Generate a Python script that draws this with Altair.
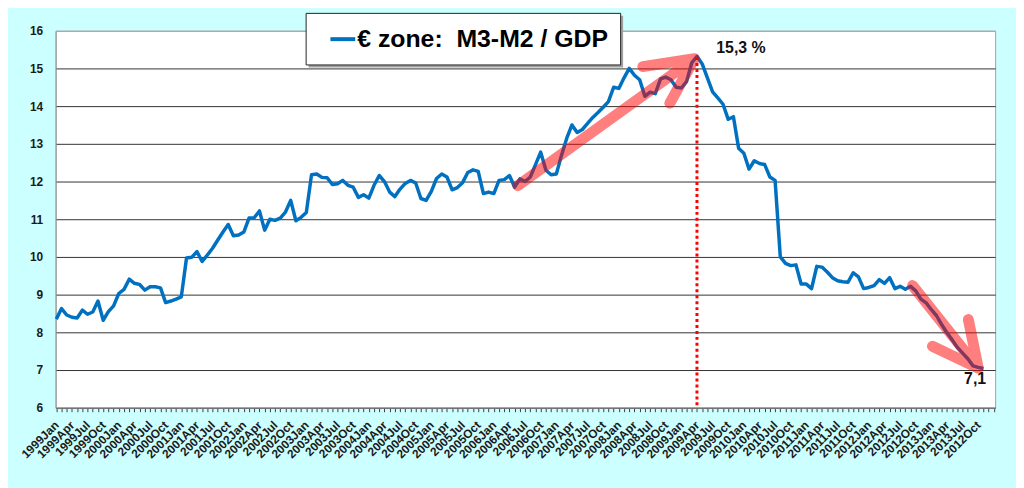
import altair as alt
import pandas as pd

FONT = "Liberation Sans"

# ---- tick labels (every 3rd month) ----
tick_labels = [
    "1999Jan", "1999Apr", "1999Jul", "1999Oct",
    "2000Jan", "2000Apr", "2000Jul", "2000Oct",
    "2001Jan", "2001Apr", "2001Jul", "2001Oct",
    "2002Jan", "2002Apr", "2002Jul", "2002Oct",
    "2003Jan", "2003Apr", "2003Jul", "2003Oct",
    "2004Jan", "2004Apr", "2004Jul", "2004Oct",
    "2005Jan", "2005Apr", "2005Jul", "2005Oct",
    "2006Jan", "2006Apr", "2006Jul", "2006Oct",
    "2007Jan", "2007Apr", "2007Jul", "2007Oct",
    "2008Jan", "2008Apr", "2008Jul", "2008Oct",
    "2009Jan", "2009Apr", "2009Jul", "2009Oct",
    "2010Jan", "2010Apr", "2010Jul", "2010Oct",
    "2011Jan", "2011Apr", "2011Jul", "2011Oct",
    "2012Jan", "2012Apr", "2012Jul", "2012Oct",
    "2013Jan", "2013Apr", "2013Jul", "2012Oct",
]

# ---- monthly values (M3-M2 / GDP, %) ----
values = [
    8.35, 8.63, 8.46, 8.40, 8.38, 8.59, 8.48, 8.54, 8.83, 8.32,
    8.55, 8.70, 9.03, 9.14, 9.41, 9.30, 9.27, 9.12, 9.21, 9.21,
    9.18, 8.79, 8.83, 8.88, 8.94, 9.97, 9.99, 10.14, 9.88, 10.05,
    10.23, 10.45, 10.66, 10.86, 10.56, 10.58, 10.66, 11.03, 11.04, 11.22,
    10.71, 11.00, 10.97, 11.03, 11.19, 11.50, 10.96, 11.05, 11.18, 12.18,
    12.20, 12.11, 12.10, 11.92, 11.94, 12.03, 11.90, 11.85, 11.58, 11.65,
    11.56, 11.90, 12.16, 12.00, 11.72, 11.60, 11.80, 11.95, 12.03, 11.96,
    11.55, 11.50, 11.74, 12.08, 12.20, 12.12, 11.78, 11.84, 11.97, 12.24,
    12.31, 12.27, 11.68, 11.72, 11.68, 12.03, 12.05, 12.16, 11.85, 12.07,
    12.00, 12.12, 12.45, 12.78, 12.30, 12.18, 12.20, 12.70, 13.15, 13.50,
    13.30, 13.38, 13.54, 13.70, 13.83, 13.97, 14.12, 14.50, 14.47, 14.75,
    15.00, 14.82, 14.70, 14.26, 14.37, 14.33, 14.72, 14.77, 14.70, 14.50,
    14.48, 14.65, 15.15, 15.32, 15.12, 14.75, 14.38, 14.22, 14.05, 13.65,
    13.72, 12.88, 12.75, 12.33, 12.55, 12.48, 12.45, 12.12, 12.03, 10.00,
    9.83, 9.77, 9.79, 9.28, 9.28, 9.16, 9.75, 9.73, 9.60, 9.45,
    9.37, 9.34, 9.33, 9.58, 9.47, 9.16, 9.19, 9.24, 9.40, 9.30,
    9.45, 9.16, 9.22, 9.14, 9.22, 9.10, 8.88, 8.78, 8.60, 8.44,
    8.20, 7.99, 7.80, 7.60, 7.45, 7.30, 7.11, 7.07, 7.04,
]

series_name = "€ zone:\u00a0 M3-M2 / GDP"
peak_index = 123
peak_value = 15.3

# annotation arrows, in data units (month index, value)
arrow_id = ["up"] * 5 + ["down"] * 5
arrow_seq = [0, 1, 2, 3, 4] * 2
arrow_i = [112.6, 122.5, 88.6, 122.5, 117.8, 168.2, 177.0, 164.4, 177.0, 175.1]
arrow_v = [15.05, 15.26, 11.89, 15.26, 14.08, 7.63, 7.05, 9.24, 7.05, 8.34]

note_text = ["15,3 %", "7,1"]
note_i = [126.7, 176.4]
note_v = [15.53, 6.76]
note_align = ["left", "center"]

df = pd.DataFrame({"i": list(range(len(values))), "v": values, "series": series_name})
arrows = pd.DataFrame({"arrow": arrow_id, "seq": arrow_seq, "i": arrow_i, "v": arrow_v})
notes = pd.DataFrame({"t": note_text, "i": note_i, "v": note_v, "al": note_align})
peak = pd.DataFrame({"i": [peak_index], "v": [peak_value], "v0": [6]})

xscale = alt.Scale(domain=[-0.13, 180.25], nice=False, zero=False)
yscale = alt.Scale(domain=[6, 16], nice=False, zero=False)

label_js = "[" + ",".join("'" + s + "'" for s in tick_labels) + "]"
label_expr = ("(datum.value % 3 == 0 && datum.value / 3 < " + str(len(tick_labels)) + ") ? "
              + label_js + "[datum.value / 3] : ''")

xaxis = alt.Axis(
    values=list(range(0, 181)), tickCount=400, labelExpr=label_expr, labelAngle=-45,
    labelAlign="right", labelBaseline="middle", labelOverlap=False,
    labelFlush=False, grid=False, tickSize=4, tickColor="#404040",
    domainColor="#808080", labelFont=FONT, labelFontWeight="bold",
    labelFontSize=12, labelColor="#1a1a1a", labelPadding=11, title=None,
)
yaxis = alt.Axis(
    values=list(range(6, 17)), tickCount=40, format="d", grid=True,
    gridColor={"condition": {"test": "datum.value >= 16", "value": "#a6a6a6"},
               "value": "#333333"},
    tickSize=0, domainColor="#999999", labelPadding=13, labelFont=FONT,
    labelOverlap=False, labelFlush=False,
    labelFontWeight="bold", labelFontSize=12, labelColor="#1a1a1a", title=None,
)

shadow = alt.Chart(pd.DataFrame({"a": [0]})).mark_rect(color="#a0a0a0").encode(
    x=alt.value(255), x2=alt.value(572), y=alt.value(-15), y2=alt.value(37)
)

line = alt.Chart(df).mark_line(strokeWidth=3.5, strokeJoin="round").encode(
    x=alt.X("i:Q", scale=xscale, axis=xaxis),
    y=alt.Y("v:Q", scale=yscale, axis=yaxis),
    color=alt.Color(
        "series:N", scale=alt.Scale(range=["#0070C0"]),
        legend=alt.Legend(
            title=None, orient="none", legendX=252, legendY=-18,
            fillColor="white", strokeColor="#222222", padding=12,
            symbolType="stroke", symbolSize=625, symbolStrokeWidth=4,
            symbolOffset=11, labelOffset=0, labelFont=FONT, labelFontSize=25,
            labelFontWeight="bold", labelColor="black", labelLimit=0,
        ),
    ),
)

peak_rule = alt.Chart(peak).mark_rule(color="#FF0000", strokeWidth=3, strokeDash=[3, 3]).encode(
    x=alt.X("i:Q", scale=xscale), y=alt.Y("v:Q", scale=yscale), y2="v0:Q"
)

arrow_lines = alt.Chart(arrows).mark_line(
    color="#FF0000", opacity=0.5, strokeWidth=11, strokeCap="round", strokeJoin="round"
).encode(
    x=alt.X("i:Q", scale=xscale), y=alt.Y("v:Q", scale=yscale),
    detail="arrow:N", order="seq:O",
)

note_left = alt.Chart(notes[notes.al == "left"]).mark_text(
    font=FONT, fontSize=16, fontWeight="bold", color="#111111", baseline="middle", align="left"
).encode(x=alt.X("i:Q", scale=xscale), y=alt.Y("v:Q", scale=yscale), text="t:N")
note_center = alt.Chart(notes[notes.al == "center"]).mark_text(
    font=FONT, fontSize=16, fontWeight="bold", color="#111111", baseline="middle", align="center"
).encode(x=alt.X("i:Q", scale=xscale), y=alt.Y("v:Q", scale=yscale), text="t:N")

chart = alt.layer(shadow, line, peak_rule, arrow_lines, note_left, note_center).properties(
    width=947, height=380, autosize="none",
    padding={"left": 48, "top": 21, "right": 21, "bottom": 79},
    background="#CCFFFF",
).configure_view(fill="white", stroke="#a0a0a0", strokeWidth=1)

chart.save("out.html", embed_options={"renderer": "svg", "actions": False})
